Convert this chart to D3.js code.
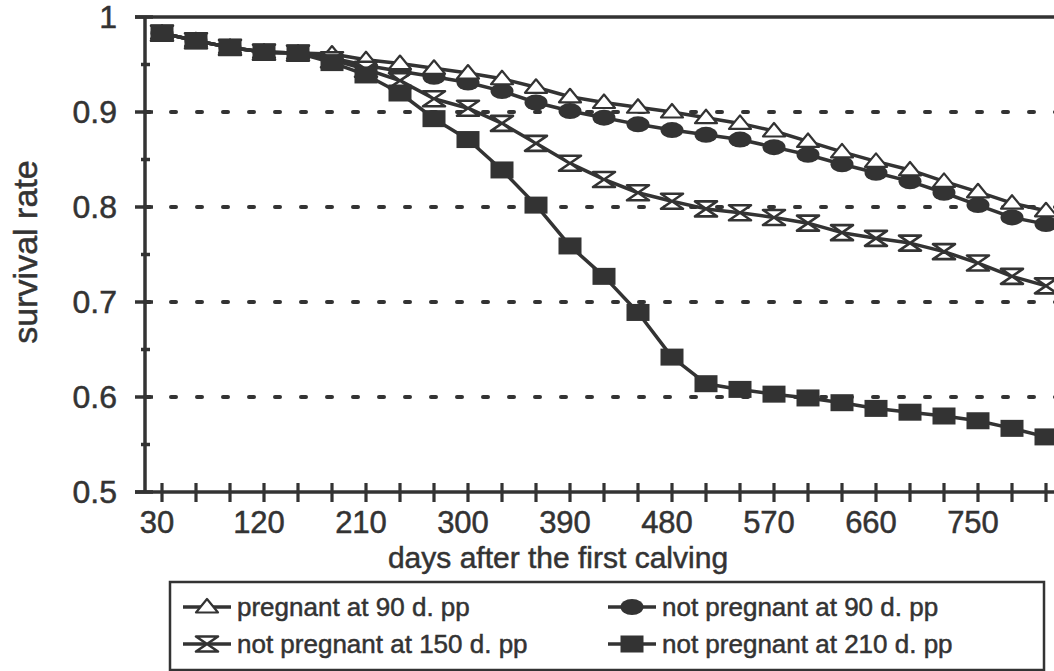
<!DOCTYPE html>
<html>
<head>
<meta charset="utf-8">
<script src="https://cdn.jsdelivr.net/npm/d3@7"></script>
<style>
  body { margin: 0; background: #fff; overflow: hidden; }
  text { font-family: "Liberation Sans", Arial, Helvetica, sans-serif; fill: #333; stroke: #333; stroke-width: 0.5px; }
</style>
</head>
<body>
<div id="chart"></div>
<script>
// days after the first calving (category axis)
const days = [30, 60, 90, 120, 150, 180, 210, 240, 270, 300, 330, 360, 390, 420,
              450, 480, 510, 540, 570, 600, 630, 660, 690, 720, 750, 780, 810];
const xTickLabels = [30, 120, 210, 300, 390, 480, 570, 660, 750];
const yTicks = [0.5, 0.6, 0.7, 0.8, 0.9, 1];
const yMinorTicks = [0.55, 0.65, 0.75, 0.85, 0.95];
const gridValues = [0.6, 0.7, 0.8, 0.9];

const pregnant90 = [0.983, 0.975, 0.968, 0.963, 0.962, 0.961, 0.955, 0.951, 0.946, 0.941,
                    0.935, 0.926, 0.916, 0.910, 0.905, 0.900, 0.894, 0.888, 0.880, 0.869,
                    0.858, 0.848, 0.839, 0.827, 0.816, 0.804, 0.796];
const notPregnant90 = [0.983, 0.975, 0.968, 0.963, 0.962, 0.957, 0.949, 0.943, 0.937, 0.931,
                       0.922, 0.910, 0.901, 0.894, 0.887, 0.881, 0.876, 0.871, 0.863, 0.855,
                       0.845, 0.836, 0.827, 0.815, 0.802, 0.789, 0.782];
const notPregnant150 = [0.983, 0.975, 0.968, 0.963, 0.962, 0.955, 0.945, 0.933, 0.914, 0.904,
                        0.888, 0.867, 0.846, 0.829, 0.815, 0.806, 0.798, 0.794, 0.789, 0.783,
                        0.773, 0.767, 0.762, 0.753, 0.741, 0.727, 0.717];
const notPregnant210 = [0.983, 0.975, 0.968, 0.963, 0.962, 0.952, 0.939, 0.920, 0.893, 0.871,
                        0.839, 0.802, 0.759, 0.727, 0.689, 0.642, 0.614, 0.608, 0.603, 0.599,
                        0.594, 0.588, 0.584, 0.580, 0.575, 0.567, 0.558];

const series = [
    {name: 'not pregnant at 90 d. pp', values: notPregnant90, marker: 'circle'},
    {name: 'pregnant at 90 d. pp', values: pregnant90, marker: 'triangle'},
    {name: 'not pregnant at 150 d. pp', values: notPregnant150, marker: 'hourglass'},
    {name: 'not pregnant at 210 d. pp', values: notPregnant210, marker: 'square'}
];

const legendItems = [
    {name: 'pregnant at 90 d. pp', marker: 'triangle', col: 0, row: 0},
    {name: 'not pregnant at 90 d. pp', marker: 'circle', col: 1, row: 0},
    {name: 'not pregnant at 150 d. pp', marker: 'hourglass', col: 0, row: 1},
    {name: 'not pregnant at 210 d. pp', marker: 'square', col: 1, row: 1}
];

const ink = '#333';
const width = 1054, height = 671;
const plot = {left: 145, top: 17, right: 1063, bottom: 492};

const x = d3.scalePoint()
    .domain(days)
    .range([plot.left, plot.right])
    .padding(0.5);

const y = d3.scaleLinear()
    .domain([0.5, 1])
    .range([plot.bottom, plot.top]);

const svg = d3.select('#chart').append('svg')
    .attr('width', width)
    .attr('height', height);

// marker shapes
function drawMarker(g, type) {
    if (type === 'square') {
        g.append('rect')
            .attr('x', -11.5).attr('y', -8.5)
            .attr('width', 23).attr('height', 17)
            .attr('fill', ink);
    } else if (type === 'circle') {
        g.append('ellipse')
            .attr('rx', 11.5).attr('ry', 8)
            .attr('fill', ink);
    } else if (type === 'triangle') {
        g.append('path')
            .attr('d', 'M0,-8L11,5.5L-11,5.5Z')
            .attr('fill', '#fff')
            .attr('stroke', ink)
            .attr('stroke-width', 2.2)
            .attr('stroke-linejoin', 'round');
    } else if (type === 'hourglass') {
        g.append('path')
            .attr('d', 'M-11,-7.5H11L-11,7.5H11Z')
            .attr('fill', '#fff')
            .attr('stroke', ink)
            .attr('stroke-width', 2.6)
            .attr('stroke-linejoin', 'round');
    }
}

// dashed grid lines
svg.append('g')
    .selectAll('line')
    .data(gridValues)
  .enter().append('line')
    .attr('x1', plot.left)
    .attr('x2', plot.right)
    .attr('y1', d => y(d))
    .attr('y2', d => y(d))
    .attr('stroke', ink)
    .attr('stroke-width', 4)
    .attr('stroke-linecap', 'round')
    .attr('stroke-dasharray', '5,21');

// frame: top line and right edge
svg.append('path')
    .attr('d', `M${plot.left - 10},${plot.top}H${plot.right}V${plot.bottom}`)
    .attr('fill', 'none')
    .attr('stroke', ink)
    .attr('stroke-width', 3.5);

// y axis
const yAxis = d3.axisLeft(y)
    .tickValues(yTicks)
    .tickSize(0)
    .tickPadding(28)
    .tickFormat(d => d === 1 ? '1' : d3.format('.1f')(d));

const gy = svg.append('g')
    .attr('transform', `translate(${plot.left},0)`)
    .call(yAxis);
gy.select('.domain').remove();
gy.selectAll('text')
    .attr('font-size', 32)
    .attr('fill', ink)
    .style('font-family', '"Liberation Sans", Arial, sans-serif');

svg.append('line')
    .attr('x1', plot.left).attr('x2', plot.left)
    .attr('y1', plot.top).attr('y2', plot.bottom + 1)
    .attr('stroke', ink).attr('stroke-width', 3.5);

svg.append('g')
    .selectAll('line')
    .data(yTicks)
  .enter().append('line')
    .attr('x1', plot.left - 10).attr('x2', plot.left + 8)
    .attr('y1', d => y(d)).attr('y2', d => y(d))
    .attr('stroke', ink).attr('stroke-width', 3.5);

svg.append('g')
    .selectAll('line')
    .data(yMinorTicks)
  .enter().append('line')
    .attr('x1', plot.left - 4).attr('x2', plot.left + 5)
    .attr('y1', d => y(d)).attr('y2', d => y(d))
    .attr('stroke', ink).attr('stroke-width', 3.5);

// x axis
svg.append('line')
    .attr('x1', plot.left - 10).attr('x2', plot.right)
    .attr('y1', plot.bottom).attr('y2', plot.bottom)
    .attr('stroke', ink).attr('stroke-width', 3.5);

svg.append('g')
    .selectAll('line')
    .data(days)
  .enter().append('line')
    .attr('x1', d => x(d)).attr('x2', d => x(d))
    .attr('y1', plot.bottom - 9).attr('y2', plot.bottom + 10)
    .attr('stroke', ink).attr('stroke-width', 3.2);

svg.append('g')
    .selectAll('text')
    .data(xTickLabels)
  .enter().append('text')
    .attr('x', d => x(d) - 5)
    .attr('y', plot.bottom + 41)
    .attr('text-anchor', 'middle')
    .attr('font-size', 31)
    .text(d => d);

// axis titles
svg.append('text')
    .attr('x', 558)
    .attr('y', 568)
    .attr('text-anchor', 'middle')
    .attr('font-size', 30)
    .text('days after the first calving');

svg.append('text')
    .attr('transform', 'translate(37,252) rotate(-90)')
    .attr('text-anchor', 'middle')
    .attr('font-size', 34)
    .text('survival rate');

// series
const line = d3.line()
    .x((d, i) => x(days[i]))
    .y(d => y(d));

series.forEach(s => {
    const g = svg.append('g').attr('class', 'series');
    g.append('path')
        .datum(s.values)
        .attr('d', line)
        .attr('fill', 'none')
        .attr('stroke', ink)
        .attr('stroke-width', 3.5)
        .attr('stroke-linejoin', 'round');
    g.selectAll('.marker')
        .data(s.values)
      .enter().append('g')
        .attr('class', 'marker')
        .attr('transform', (d, i) => `translate(${x(days[i])},${y(d)})`)
        .each(function() { drawMarker(d3.select(this), s.marker); });
});

// legend
const legend = svg.append('g');
legend.append('rect')
    .attr('x', 170).attr('y', 582)
    .attr('width', 874).attr('height', 88)
    .attr('fill', '#fff')
    .attr('stroke', ink)
    .attr('stroke-width', 2.5);

const colX = [183, 608], rowY = [607, 644];

legendItems.forEach(item => {
    const lx = colX[item.col], ly = rowY[item.row];
    const g = legend.append('g');
    g.append('line')
        .attr('x1', lx).attr('x2', lx + 48)
        .attr('y1', ly).attr('y2', ly)
        .attr('stroke', ink).attr('stroke-width', 3.5);
    const m = g.append('g').attr('transform', `translate(${lx + 24},${ly})`);
    drawMarker(m, item.marker);
    g.append('text')
        .attr('x', lx + 54)
        .attr('y', ly)
        .attr('dy', '0.35em')
        .attr('font-size', 26)
        .text(item.name);
});
</script>
</body>
</html>
